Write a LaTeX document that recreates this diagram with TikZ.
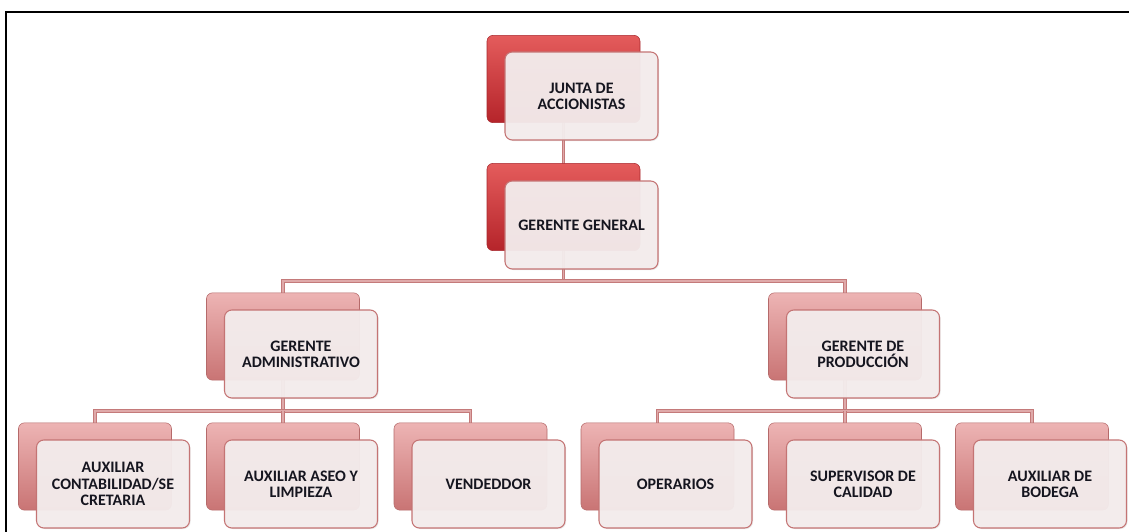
\documentclass[tikz,border=0pt]{standalone}
\usepackage{fontspec}
\setmainfont{Carlito}
\usetikzlibrary{shadows}
\pgfdeclarelayer{background}
\pgfsetlayers{background,main}
\definecolor{redtop}{HTML}{E45C5C}
\definecolor{redbot}{HTML}{B5242A}
\definecolor{redline}{HTML}{A82A2F}
\definecolor{pinktop}{HTML}{EDB4B4}
\definecolor{pinkbot}{HTML}{C97474}
\definecolor{pinkline}{HTML}{B56A6A}
\definecolor{frontfill}{HTML}{F4EDED}
\definecolor{frontdraw}{HTML}{C47474}
\definecolor{connout}{HTML}{C47A7A}
\definecolor{connin}{HTML}{DFA9A9}
\definecolor{txt}{HTML}{15151F}
\tikzset{
  backbox/.style={rectangle, rounded corners=4.5pt, minimum width=114.75pt, minimum height=65.5pt, inner sep=0pt},
  backred/.style={backbox, top color=redtop, bottom color=redbot, draw=redline, line width=0.4pt},
  backpink/.style={backbox, top color=pinktop, bottom color=pinkbot, draw=pinkline, line width=0.4pt},
  frontbox/.style={rectangle, rounded corners=5.5pt, minimum width=114.75pt, minimum height=66pt, inner sep=0pt,
    fill=frontfill, fill opacity=0.95, text opacity=1, draw=frontdraw, line width=0.8pt,
    drop shadow={opacity=0.18, shadow xshift=0.8pt, shadow yshift=-0.8pt},
    align=center, font=\bfseries\fontsize{12}{12.2}\selectfont, text=txt},
  conn/.style={draw=connout, line width=0.6pt, double=connin, double distance=1.2pt},
  frameline/.style={black, line width=1.6pt}
}
\begin{document}
\begin{tikzpicture}[x=0.75pt, y=-0.75pt]
\useasboundingbox (0,0) rectangle (1129,532);
\draw[frameline] (6,532) -- (6,12) -- (1129,12);

% back boxes
\node[backred]  (jb)  at (563.5,79) {};
\node[backred]  (gb)  at (563.5,207) {};
\node[backpink] (gab) at (283,336.5) {};
\node[backpink] (gpb) at (845,336.5) {};
\node[backpink] (a1b) at (95,466.5) {};
\node[backpink] (a2b) at (283,466.5) {};
\node[backpink] (a3b) at (470.5,466.5) {};
\node[backpink] (p1b) at (657.5,466.5) {};
\node[backpink] (p2b) at (845,466.5) {};
\node[backpink] (p3b) at (1032,466.5) {};

% front boxes
\node[frontbox] (j)  at (581.5,96)  {JUNTA DE\\ACCIONISTAS};
\node[frontbox] (g)  at (581.5,225) {GERENTE GENERAL};
\node[frontbox] (ga) at (301,354)   {GERENTE\\ADMINISTRATIVO};
\node[frontbox] (gp) at (863,354)   {GERENTE DE\\PRODUCCIÓN};
\node[frontbox] (a1) at (113,484)   {AUXILIAR\\CONTABILIDAD/SE\\CRETARIA};
\node[frontbox] (a2) at (301,484)   {AUXILIAR ASEO Y\\LIMPIEZA};
\node[frontbox] (a3) at (488.5,484) {VENDEDDOR};
\node[frontbox] (p1) at (675.5,484) {OPERARIOS};
\node[frontbox] (p2) at (863,484)   {SUPERVISOR DE\\CALIDAD};
\node[frontbox] (p3) at (1050,484)  {AUXILIAR DE\\BODEGA};

\coordinate (h1) at (563.5,281);
\coordinate (h2) at (283,411);
\coordinate (h3) at (845,411);

\begin{pgfonlayer}{background}
\fill[white] (0,0) rectangle (1129,532);
\draw[conn] (jb.center) -- (gb.center);
\draw[conn] (gb.center) -- (h1);
\draw[conn] (gab.center) |- (h1) -| (gpb.center);
\draw[conn] (gab.center) -- (h2);
\draw[conn] (a1b.center) |- (h2) -| (a3b.center);
\draw[conn] (a2b.center) -- (h2);
\draw[conn] (gpb.center) -- (h3);
\draw[conn] (p1b.center) |- (h3) -| (p3b.center);
\draw[conn] (p2b.center) -- (h3);
\end{pgfonlayer}
\end{tikzpicture}
\end{document}
